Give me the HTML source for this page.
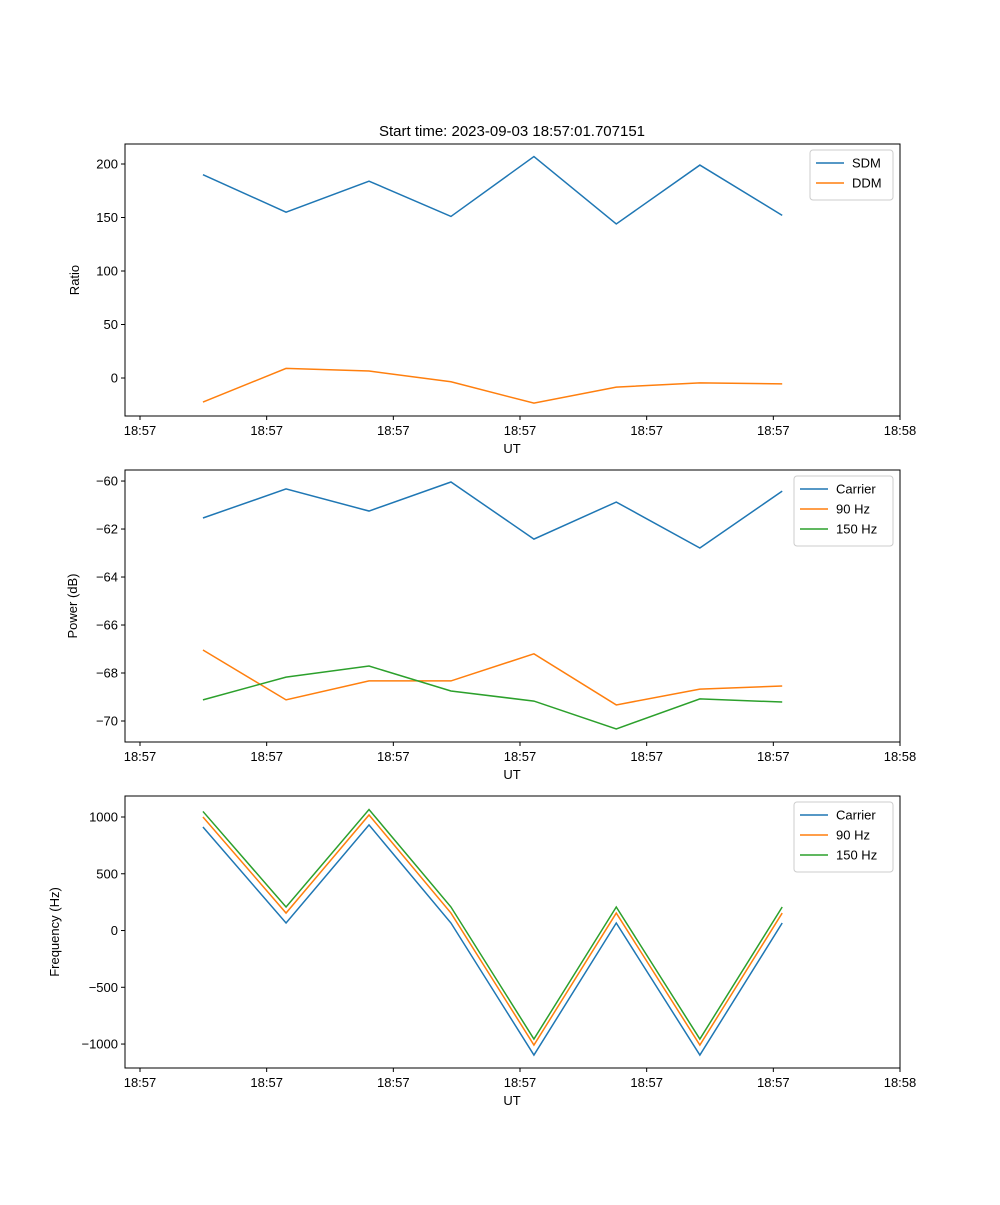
<!DOCTYPE html>
<html><head><meta charset="utf-8"><style>
body{margin:0;background:#fff;}
svg text{font-family:"Liberation Sans","DejaVu Sans",sans-serif;font-size:13px;fill:#000;}
</style></head><body>
<svg id="chart" width="1000" height="1200" xmlns="http://www.w3.org/2000/svg">
<rect width="1000" height="1200" fill="#fff"/>
<text x="512" y="136" text-anchor="middle" style="font-size:15px">Start time: 2023-09-03 18:57:01.707151</text>
</svg>
<script>
const tickLabels = ["18:57","18:57","18:57","18:57","18:57","18:57","18:58"];
const times = [0.497,1.153,1.808,2.455,3.11,3.76,4.42,5.07];
const sdm = [190,155,184,151,207,144,199,152];
const ddm = [-22.5,9,6.5,-3.5,-23.5,-8.5,-4.5,-5.5];
const pCarrier = [-61.54,-60.33,-61.25,-60.04,-62.42,-60.875,-62.79,-60.42];
const p90 = [-67.04,-69.12,-68.33,-68.33,-67.2,-69.33,-68.67,-68.54];
const p150 = [-69.12,-68.17,-67.71,-68.75,-69.17,-70.33,-69.08,-69.21];
const fCarrier = [912,66,930,66,-1097,66,-1097,66];
const f90 = [1000,154,1018,154,-1009,154,-1009,154];
const f150 = [1049,207,1066,207,-956,207,-956,207];
const ticks1 = [0,50,100,150,200];
const ticks2 = [-70,-68,-66,-64,-62,-60];
const ticks3 = [-1000,-500,0,500,1000];

const NS="http://www.w3.org/2000/svg";
const svg=document.getElementById('chart');
function mk(tag,attrs,parent){const e=document.createElementNS(NS,tag);for(const k in attrs)e.setAttribute(k,attrs[k]);(parent||svg).appendChild(e);return e;}
const L=125,R=900;
const xs=t=>140+(t)*(760/6);
const C=["#1f77b4","#ff7f0e","#2ca02c"];

function panel(id,top,bot,ymin,ymax,yticks,ylabel,ylabelX,series,names,legW){
  const g=mk('g',{});
  
  
  const ys=v=>bot-(v-ymin)/(ymax-ymin)*(bot-top);
  tickLabels.forEach((lab,i)=>{
    const x=xs(i);
    const tk=mk('line',{x1:x,x2:x,y1:bot,y2:bot+4,stroke:'#000'},g);
    
    
    const t=mk('text',{x:x,y:bot+19,'text-anchor':'middle'},g);t.textContent=lab;
    
    
  });
  yticks.forEach(v=>{
    const y=ys(v);
    const tk=mk('line',{x1:L-4,x2:L,y1:y,y2:y,stroke:'#000'},g);
    
    
    const t=mk('text',{x:L-7,y:y+4.5,'text-anchor':'end'},g);t.textContent=String(v).replace('-','\u2212');
    
    
  });
  const xl=mk('text',{x:512,y:bot+37,'text-anchor':'middle'},g);xl.textContent='UT';
  
  
  const cy=(top+bot)/2;
  const yl=mk('text',{x:ylabelX,y:cy,'text-anchor':'middle',transform:`rotate(-90 ${ylabelX} ${cy})`},g);yl.textContent=ylabel;
  
  
  series.forEach((s,i)=>{
    const p=mk('polyline',{points:s.map((v,j)=>xs(times[j])+','+ys(v)).join(' '),fill:'none',stroke:C[i],'stroke-width':1.5},g);
    
    
  });
  const fr=mk('rect',{x:L,y:top,width:R-L,height:bot-top,fill:'none',stroke:'#000','stroke-width':1},g);
  
  
  const lx=R-7-legW, ly=top+6, lh=10+names.length*20;
  const lg=mk('g',{},g);
  
  
  mk('rect',{x:lx,y:ly,width:legW,height:lh,rx:3,fill:'#fff',stroke:'#ccc'},lg);
  names.forEach((n,i)=>{
    const y=ly+13+i*20;
    mk('line',{x1:lx+6,x2:lx+34,y1:y,y2:y,stroke:C[i],'stroke-width':1.5},lg);
    const t=mk('text',{x:lx+42,y:y+4.5},lg);t.textContent=n;
    
    
  });
}
panel('ratio',144,416,-35.5,218.7,ticks1,'Ratio',79,[sdm,ddm],['SDM','DDM'],83);
panel('power',470,742,-70.875,-59.54,ticks2,'Power (dB)',77,[pCarrier,p90,p150],['Carrier','90 Hz','150 Hz'],99);
panel('frequency',796,1068,-1211,1185,ticks3,'Frequency (Hz)',59,[fCarrier,f90,f150],['Carrier','90 Hz','150 Hz'],99);
</script>
</body></html>
